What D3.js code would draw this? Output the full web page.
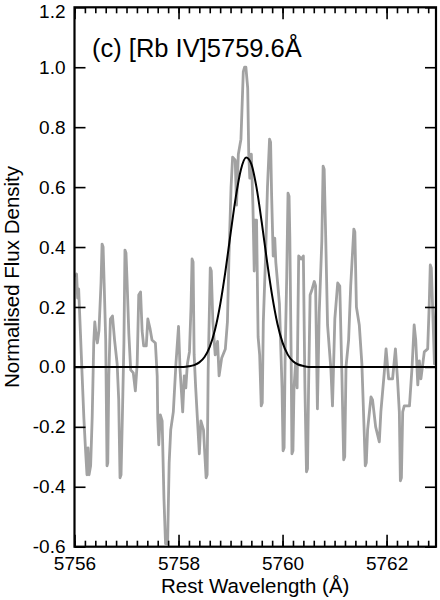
<!DOCTYPE html>
<html>
<head>
<meta charset="utf-8">
<script src="https://cdn.jsdelivr.net/npm/d3@7"></script>
<style>
  html, body { margin: 0; padding: 0; background: #fff; }
  svg { display: block; }
  text { font-family: "Liberation Sans", Arial, Helvetica, sans-serif; fill: #000; }
</style>
</head>
<body>
<svg id="chart" width="440" height="600"></svg>
<script>
// ---- data ----
const specWave = [
  5756.02, 5756.04, 5756.06, 5756.08, 5756.115, 5756.147, 5756.18, 5756.21, 5756.24, 5756.26,
  5756.28, 5756.31, 5756.34, 5756.37, 5756.39, 5756.42, 5756.44, 5756.47, 5756.51, 5756.53, 5756.55,
  5756.57, 5756.60, 5756.625, 5756.64, 5756.66, 5756.69, 5756.73, 5756.77, 5756.82, 5756.85, 5756.875, 5756.895,
  5756.92, 5756.95, 5756.97, 5756.99, 5757.01, 5757.045, 5757.08, 5757.13, 5757.17, 5757.205, 5757.235,
  5757.27, 5757.30, 5757.33, 5757.38, 5757.41, 5757.45, 5757.49, 5757.555, 5757.59, 5757.60,
  5757.62, 5757.65, 5757.685, 5757.72, 5757.75, 5757.79, 5757.82, 5757.85, 5757.90, 5757.95,
  5758.00, 5758.03, 5758.08, 5758.11, 5758.14, 5758.17, 5758.21, 5758.24, 5758.26, 5758.28, 5758.30,
  5758.33, 5758.40, 5758.43, 5758.48, 5758.53, 5758.55, 5758.57, 5758.61, 5758.63, 5758.66, 5758.705, 5758.75,
  5758.78, 5758.83, 5758.90, 5758.94, 5758.97, 5759.01, 5759.04, 5759.09, 5759.115, 5759.15,
  5759.20, 5759.245, 5759.27, 5759.295, 5759.33, 5759.35, 5759.37, 5759.40, 5759.43, 5759.455, 5759.47,
  5759.50, 5759.53, 5759.56, 5759.59, 5759.61, 5759.63, 5759.67, 5759.71, 5759.75, 5759.77, 5759.79, 5759.82,
  5759.85, 5759.87, 5759.94, 5759.99, 5760.01, 5760.03, 5760.05, 5760.08, 5760.105, 5760.125, 5760.14, 5760.165,
  5760.18, 5760.20, 5760.22, 5760.25, 5760.28, 5760.31, 5760.36, 5760.40, 5760.43, 5760.46, 5760.48, 5760.50,
  5760.53, 5760.57, 5760.61, 5760.635, 5760.67, 5760.705, 5760.755, 5760.78, 5760.80, 5760.83, 5760.865,
  5760.93, 5760.96, 5761.005, 5761.06, 5761.10, 5761.14, 5761.175, 5761.195, 5761.22, 5761.27, 5761.31,
  5761.37, 5761.39, 5761.42, 5761.475, 5761.525, 5761.57, 5761.59, 5761.61, 5761.635, 5761.70, 5761.73, 5761.79,
  5761.86, 5761.89, 5761.955, 5761.99, 5762.04, 5762.115, 5762.17, 5762.21, 5762.245, 5762.265, 5762.285,
  5762.31, 5762.34, 5762.44, 5762.49, 5762.53, 5762.56, 5762.60, 5762.63, 5762.66, 5762.725,
  5762.79, 5762.82, 5762.84, 5762.86, 5762.885, 5762.92, 5762.95
];
const specFlux = [
  0.30, 0.31, 0.23, 0.26, 0.11, -0.03, -0.17, -0.27, -0.36, -0.27,
  -0.36, -0.33, -0.17, 0.08, 0.15, 0.10, 0.08, 0.12, 0.28, 0.41, 0.40,
  0.28, 0.09, -0.33, -0.32, -0.03, 0.16, 0.17, 0.09, 0.01, -0.11, -0.37, -0.36,
  -0.17, 0.08, 0.39, 0.38, 0.29, 0.11, -0.01, -0.02, -0.08, 0.01, 0.24,
  0.25, 0.12, 0.07, 0.07, 0.16, 0.13, 0.09, 0.08, -0.03, -0.17,
  -0.26, -0.16, -0.18, -0.44, -0.59, -0.59, -0.32, -0.21, -0.15, 0.01,
  0.135, -0.01, -0.15, -0.03, -0.07, 0.01, 0.05, 0.20, 0.36, 0.35, 0.04,
  -0.07, -0.29, -0.18, -0.21, -0.37, -0.36, -0.01, 0.33, 0.32, 0.15, 0.04, 0.085,
  -0.03, 0.03, 0.06, 0.15, 0.37, 0.60, 0.70, 0.69, 0.54, 0.71,
  0.76, 0.985, 1.00, 1.00, 0.93, 0.71, 0.63, 0.71, 0.54, 0.32, 0.49,
  0.49, 0.10, 0.04, -0.13, -0.12, 0.15, 0.35, 0.60, 0.76, 0.75, 0.57, 0.37,
  0.43, 0.35, 0.21, -0.07, -0.28, -0.27, 0.04, 0.30, 0.58, 0.57, 0.43, 0.04,
  -0.29, -0.28, -0.07, 0.01, -0.07, 0.37, 0.36, 0.37, -0.07, -0.35, -0.34, -0.07,
  0.24, 0.26, 0.285, 0.27, -0.14, 0.18, 0.42, 0.67, 0.66, 0.43, 0.14,
  -0.01, -0.13, 0.16, 0.28, 0.27, -0.02, -0.31, -0.30, 0.00, 0.09, 0.27,
  0.46, 0.45, 0.20, 0.14, 0.01, -0.22, -0.33, -0.32, -0.21, -0.10, -0.11, -0.20,
  -0.25, -0.15, -0.02, 0.06, -0.04, -0.04, 0.06, -0.04, -0.15, -0.38, -0.37,
  -0.15, -0.13, -0.13, 0.00, 0.14, 0.09, -0.06, 0.02, -0.04, 0.05,
  0.06, 0.21, 0.34, 0.33, 0.20, 0.01, 0.20
];
const fitWave = [
  5756.0, 5758.1, 5758.2, 5758.3, 5758.4, 5758.5, 5758.6, 5758.7, 5758.8, 5758.9,
  5759.0, 5759.1, 5759.2, 5759.3, 5759.4, 5759.5, 5759.6, 5759.7, 5759.8, 5759.9,
  5760.0, 5760.1, 5760.2, 5760.3, 5760.4, 5760.5, 5762.95
];
const fitFlux = [
  0.000, 0.000, 0.002, 0.006, 0.015, 0.033, 0.067, 0.123, 0.207, 0.317,
  0.444, 0.566, 0.659, 0.699, 0.677, 0.598, 0.482, 0.354, 0.238, 0.145,
  0.081, 0.041, 0.019, 0.008, 0.003, 0.000, 0.000
];
const xMajorTicks = [5756, 5758, 5760, 5762];
const xTickLabels = ["5756", "5758", "5760", "5762"];
const xMinorTicks = [];
for (let i = 0; i <= 34; i++) xMinorTicks.push(5756 + i * 0.2);
const yTicks = [-0.6, -0.4, -0.2, 0.0, 0.2, 0.4, 0.6, 0.8, 1.0, 1.2];
const yTickLabels = ["-0.6", "-0.4", "-0.2", "0.0", "0.2", "0.4", "0.6", "0.8", "1.0", "1.2"];
const titleText = "(c) [Rb IV]5759.6Å";
const xLabel = "Rest Wavelength (Å)";
const yLabel = "Normalised Flux Density";

// ---- layout ----
const L = 74.5, R = 436, T = 7.3, B = 546.7;
const svg = d3.select("#chart");
const x = d3.scaleLinear().domain([5756, 5762.95]).range([L, R]);
const y = d3.scaleLinear().domain([-0.6, 1.2]).range([B, T]);

svg.append("defs").append("clipPath").attr("id", "clip")
  .append("rect").attr("x", L).attr("y", T).attr("width", R - L).attr("height", B - T);

const plot = svg.append("g").attr("clip-path", "url(#clip)");

const spec = specWave.map((w, i) => [w, specFlux[i]]);
const fit = fitWave.map((w, i) => [w, fitFlux[i]]);

plot.append("path")
  .datum(spec)
  .attr("fill", "none")
  .attr("stroke", "#a2a2a2")
  .attr("stroke-width", 2.8)
  .attr("stroke-linejoin", "round")
  .attr("d", d3.line().x(d => x(d[0])).y(d => y(d[1])));

plot.append("path")
  .datum(fit)
  .attr("fill", "none")
  .attr("stroke", "#000")
  .attr("stroke-width", 2)
  .attr("d", d3.line().x(d => x(d[0])).y(d => y(d[1])).curve(d3.curveMonotoneX));

// ---- axes ----
function styleAxis(g) {
  g.select(".domain").remove();
  g.selectAll("line").attr("stroke", "#000").attr("stroke-width", 1.6);
  g.selectAll("text").style("font-size", "19px")
    .style("font-family", '"Liberation Sans", Arial, Helvetica, sans-serif').attr("fill", "#000");
}

// bottom
svg.append("g").attr("transform", `translate(0,${B})`)
  .call(d3.axisBottom(x).tickValues(xMinorTicks).tickSize(-6).tickFormat(""))
  .call(styleAxis);
svg.append("g").attr("transform", `translate(0,${B})`)
  .call(d3.axisBottom(x).tickValues(xMajorTicks).tickSize(-12).tickPadding(10)
    .tickFormat((d, i) => xTickLabels[i]))
  .call(styleAxis);
// top
svg.append("g").attr("transform", `translate(0,${T})`)
  .call(d3.axisTop(x).tickValues(xMinorTicks).tickSize(-6).tickFormat(""))
  .call(styleAxis);
svg.append("g").attr("transform", `translate(0,${T})`)
  .call(d3.axisTop(x).tickValues(xMajorTicks).tickSize(-12).tickFormat(""))
  .call(styleAxis);
// left
const leftAxis = svg.append("g").attr("transform", `translate(${L},0)`)
  .call(d3.axisLeft(y).tickValues(yTicks).tickSize(-11).tickPadding(9)
    .tickFormat((d, i) => yTickLabels[i]))
  .call(styleAxis);
// keep the top label inside the picture, as in the reference
leftAxis.selectAll(".tick text").filter(d => d === 1.2).attr("dy", "0.55em");
// right
svg.append("g").attr("transform", `translate(${R},0)`)
  .call(d3.axisRight(y).tickValues(yTicks).tickSize(-11).tickFormat(""))
  .call(styleAxis);

// frame
svg.append("rect")
  .attr("x", L).attr("y", T).attr("width", R - L).attr("height", B - T)
  .attr("fill", "none").attr("stroke", "#000").attr("stroke-width", 2.2);

// ---- texts ----
svg.append("text")
  .attr("x", 92).attr("y", 57)
  .style("font-size", "25.5px")
  .text(titleText);

svg.append("text")
  .attr("x", (L + R) / 2).attr("y", 593)
  .attr("text-anchor", "middle")
  .style("font-size", "20.5px")
  .text(xLabel);

svg.append("text")
  .attr("transform", `translate(19,${(T + B) / 2}) rotate(-90)`)
  .attr("text-anchor", "middle")
  .style("font-size", "20.5px")
  .text(yLabel);
</script>
</body>
</html>
